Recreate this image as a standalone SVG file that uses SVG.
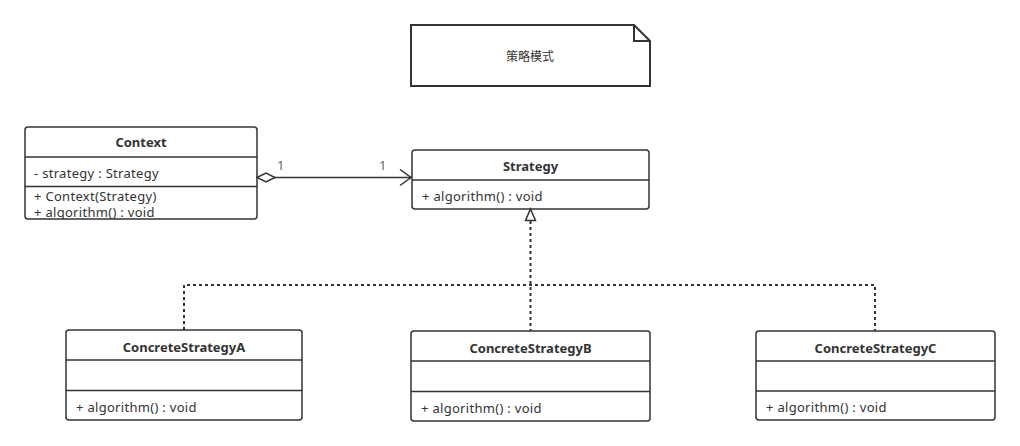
<svg xmlns="http://www.w3.org/2000/svg" width="1020" height="446" viewBox="0 0 1020 446">
  <style>
    .box { fill: #ffffff; stroke: #333333; stroke-width: 1.5; }
    .sep { stroke: #333333; stroke-width: 1.5; fill: none; }
    .title { font-family: "Noto Sans", "Noto Sans CJK SC", sans-serif; font-size: 13px; font-weight: bold; fill: #333333; text-anchor: middle; }
    .member { font-family: "Noto Sans", "Noto Sans CJK SC", sans-serif; font-size: 13px; fill: #333333; letter-spacing: 0.3px; }
    .mult { font-family: "Noto Sans", sans-serif; font-size: 13px; fill: #666666; }
    .note-text { font-family: "Noto Sans CJK SC", sans-serif; font-size: 12px; fill: #333333; text-anchor: middle; }
    .assoc { stroke: #333333; stroke-width: 1.5; fill: none; }
    .realize { stroke: #333333; stroke-width: 2; fill: none; stroke-dasharray: 3 3; }
  </style>
  <defs>
    <marker id="open-arrow" markerWidth="14" markerHeight="18" refX="12" refY="9" orient="auto" markerUnits="userSpaceOnUse">
      <path d="M1,1 L12,9 L1,17" fill="none" stroke="#333333" stroke-width="1.5"/>
    </marker>
    <marker id="diamond" markerWidth="22" markerHeight="12" refX="1" refY="6" orient="auto" markerUnits="userSpaceOnUse">
      <path d="M1,6 L10,1.5 L19,6 L10,10.5 Z" fill="#ffffff" stroke="#333333" stroke-width="1.5"/>
    </marker>
    <clipPath id="ctx-clip">
      <rect x="25" y="127" width="232" height="92" rx="3"/>
    </clipPath>
  </defs>

  <rect width="1020" height="446" fill="#ffffff"/>

  <!-- note -->
  <g id="note">
    <path d="M411,25 L634,25 L650,41 L650,86 L411,86 Z" fill="#ffffff" stroke="#333333" stroke-width="2"/>
    <path d="M634,25 L634,41 L650,41" fill="none" stroke="#333333" stroke-width="2"/>
    <text class="note-text" x="530" y="61">策略模式</text>
  </g>

  <!-- Context -->
  <g id="context">
    <rect class="box" x="25" y="127" width="232" height="92" rx="3"/>
    <line class="sep" x1="25" y1="157" x2="257" y2="157"/>
    <line class="sep" x1="25" y1="186.5" x2="257" y2="186.5"/>
    <text class="title" x="141" y="147">Context</text>
    <text class="member" x="34" y="177.5">- strategy : Strategy</text>
    <g clip-path="url(#ctx-clip)">
      <text class="member" x="34" y="201">+ Context(Strategy)</text>
      <text class="member" x="34" y="216.5">+ algorithm() : void</text>
    </g>
  </g>

  <!-- Strategy -->
  <g id="strategy">
    <rect class="box" x="412" y="150" width="237" height="59" rx="3"/>
    <line class="sep" x1="412" y1="180" x2="649" y2="180"/>
    <text class="title" x="530.5" y="170.5">Strategy</text>
    <text class="member" x="422" y="200.5">+ algorithm() : void</text>
  </g>

  <!-- ConcreteStrategyA -->
  <g id="concrete-a">
    <rect class="box" x="66" y="330" width="236" height="90" rx="3"/>
    <line class="sep" x1="66" y1="360" x2="302" y2="360"/>
    <line class="sep" x1="66" y1="390.5" x2="302" y2="390.5"/>
    <text class="title" x="184" y="351.5">ConcreteStrategyA</text>
    <text class="member" x="76" y="411.5">+ algorithm() : void</text>
  </g>

  <!-- ConcreteStrategyB -->
  <g id="concrete-b">
    <rect class="box" x="411" y="331" width="239" height="90" rx="3"/>
    <line class="sep" x1="411" y1="361" x2="650" y2="361"/>
    <line class="sep" x1="411" y1="391.5" x2="650" y2="391.5"/>
    <text class="title" x="530.5" y="352.5">ConcreteStrategyB</text>
    <text class="member" x="421" y="412.5">+ algorithm() : void</text>
  </g>

  <!-- ConcreteStrategyC -->
  <g id="concrete-c">
    <rect class="box" x="756" y="331" width="239" height="89" rx="3"/>
    <line class="sep" x1="756" y1="361" x2="995" y2="361"/>
    <line class="sep" x1="756" y1="391" x2="995" y2="391"/>
    <text class="title" x="875.5" y="352.5">ConcreteStrategyC</text>
    <text class="member" x="766" y="411.5">+ algorithm() : void</text>
  </g>

  <!-- connectors -->
  <g id="connectors">
    <!-- aggregation Context -> Strategy -->
    <line class="assoc" x1="257" y1="177.5" x2="411" y2="177.5" marker-start="url(#diamond)" marker-end="url(#open-arrow)"/>
    <text class="mult" x="277" y="170">1</text>
    <text class="mult" x="379" y="170">1</text>

    <!-- realizations -->
    <path class="realize" d="M184,330 L184,285 L875,285 L875,331"/>
    <line class="realize" x1="530.5" y1="221" x2="530.5" y2="331"/>
    <path d="M530.5,209 L535.5,220.5 L525.5,220.5 Z" fill="#ffffff" stroke="#333333" stroke-width="1.5"/>
  </g>
</svg>
